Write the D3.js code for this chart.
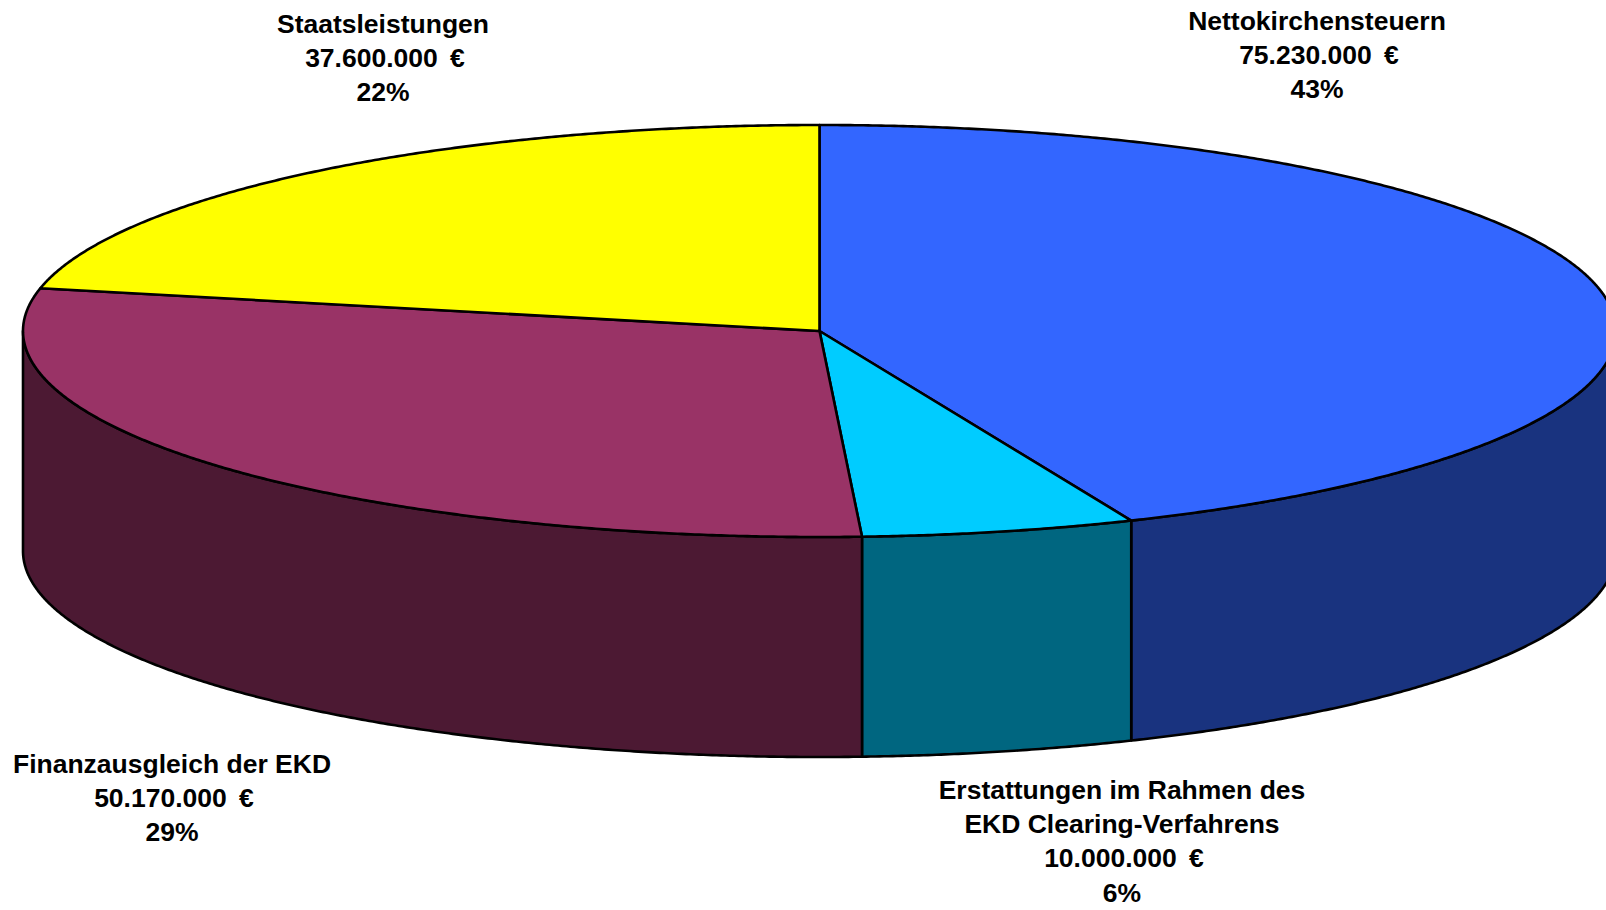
<!DOCTYPE html>
<html>
<head>
<meta charset="utf-8">
<script src="https://cdnjs.cloudflare.com/ajax/libs/d3/7.8.5/d3.min.js"></script>
<style>
    html, body { margin: 0; padding: 0; background: #fff; }
    svg { display: block; }
    .label { font-family: "Liberation Sans", Arial, sans-serif; font-weight: bold; font-size: 26.5px; fill: #000; }
</style>
</head>
<body>
<div class="graph"></div>
<script>
const categories = [
    ['Nettokirchensteuern'],
    ['Erstattungen im Rahmen des', 'EKD Clearing-Verfahrens'],
    ['Finanzausgleich der EKD'],
    ['Staatsleistungen']
];
const values = [75230000, 10000000, 50170000, 37600000];
const percents = ['43%', '6%', '29%', '22%'];
// slice sizes as measured on the picture, they differ a little from the printed amounts
const drawnShares = [43.6, 5.55, 29.18, 21.67];
const topColors = ['#3366ff', '#00ccff', '#993366', '#ffff00'];
const sideColors = ['#19337f', '#006680', '#4c1933', '#808000'];

var width = 1606,
    height = 910;

var cx = 819.5,
    cy = 331,
    rx = 796.5,
    ry = 206,
    depth = 220;

// label anchors, same order as categories
var labelPos = [[1317, 21], [1122, 790], [172, 764], [383, 24]];
var lineHeight = 34.2;

var euro = d3.formatLocale({ decimal: ',', thousands: '.', grouping: [3], currency: ['', ' €'] }).format('$,.0f');

var pie = d3.pie().sort(null);
var slices = pie(drawnShares);

var point = function (t, dy) {
    return [cx + rx * Math.sin(t), cy - ry * Math.cos(t) + (dy || 0)];
};

var arcPoints = function (a, b, dy) {
    var n = Math.max(2, Math.ceil((b - a) * 180));
    return d3.range(n + 1).map(function (i) {
        return point(a + (b - a) * i / n, dy);
    });
};

var line = d3.line();

var svg = d3.select('.graph').append('svg')
    .attr('width', width)
    .attr('height', height);

// front wall, only the part of each slice facing the viewer
var frontStart = Math.PI / 2,
    frontEnd = Math.PI * 1.5;

svg.append('g').selectAll('path')
    .data(slices.filter(function (d) {
        return d.endAngle > frontStart && d.startAngle < frontEnd;
    }))
    .join('path')
    .attr('d', function (d) {
        var a = Math.max(d.startAngle, frontStart),
            b = Math.min(d.endAngle, frontEnd);
        return line(arcPoints(a, b, 0).concat(arcPoints(a, b, depth).reverse())) + 'Z';
    })
    .attr('fill', function (d) { return sideColors[d.index]; })
    .attr('stroke', '#000')
    .attr('stroke-width', 2.6)
    .attr('stroke-linejoin', 'round');

// top face
svg.append('g').selectAll('path')
    .data(slices)
    .join('path')
    .attr('d', function (d) {
        return line([[cx, cy]].concat(arcPoints(d.startAngle, d.endAngle, 0))) + 'Z';
    })
    .attr('fill', function (d) { return topColors[d.index]; })
    .attr('stroke', '#000')
    .attr('stroke-width', 2.6)
    .attr('stroke-linejoin', 'round');

var labels = svg.append('g').selectAll('text')
    .data(categories)
    .join('text')
    .attr('class', 'label')
    .attr('text-anchor', 'middle');

labels.each(function (name, i) {
    var rows = name.concat([euro(values[i]), percents[i]]);
    d3.select(this).selectAll('tspan')
        .data(rows)
        .join('tspan')
        .attr('x', function (d, j) {
            // the amount row sits slightly right of the others
            return labelPos[i][0] + (j === rows.length - 2 ? 2 : 0);
        })
        .attr('y', function (d, j) { return labelPos[i][1] + j * lineHeight + 9; })
        .attr('word-spacing', function (d, j) { return j === rows.length - 2 ? 5 : null; })
        .text(function (d) { return d; });
});
</script>
</body>
</html>
